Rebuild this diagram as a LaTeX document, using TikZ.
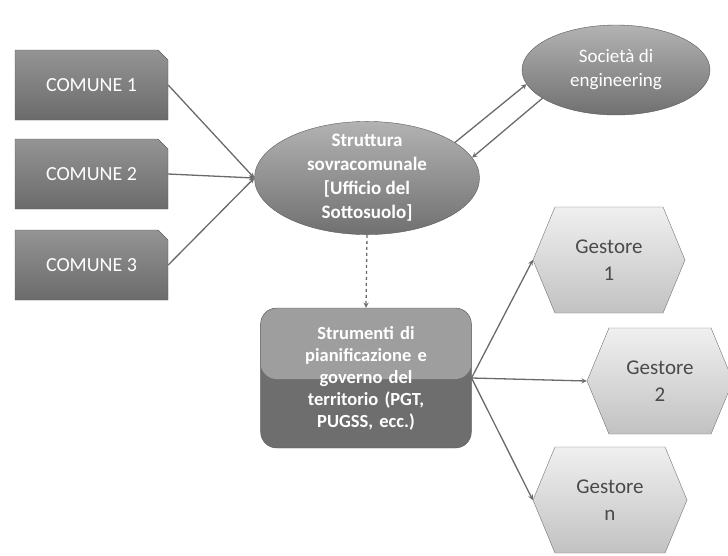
\documentclass[tikz,border=0pt]{standalone}
\usepackage{fontspec}
\setmainfont{Carlito}
\usepackage{tikz}
\usetikzlibrary{shapes,arrows,positioning}

\definecolor{boxgray}{HTML}{777777}
\definecolor{linegray}{HTML}{6A6A6A}
\definecolor{hexgray}{HTML}{C6C6C6}
\definecolor{hextext}{HTML}{4A4A4A}

\begin{document}
\begin{tikzpicture}[
    x=1pt, y=-1pt,
    comune/.style={chamfered rectangle, chamfered rectangle corners=north east, chamfered rectangle xsep=5pt, chamfered rectangle ysep=5pt,
        draw=black!65, top color=black!42, bottom color=black!58, minimum width=153pt, minimum height=70pt, inner sep=0pt,
        text=white, font=\fontsize{20}{22}\selectfont},
    oval/.style={ellipse, draw=black!65, top color=black!30, middle color=black!52, bottom color=black!56, inner xsep=0pt, inner ysep=-8pt,
        text=white, align=center, font=\bfseries\fontsize{19}{24}\selectfont},
    gestore/.style={signal, signal to=west and east, signal pointer angle=135, draw=black!55, top color=black!6, middle color=black!22, bottom color=black!24,
        minimum width=152pt, minimum height=106pt, inner sep=0pt, text=hextext, align=center, font=\fontsize{21}{27}\selectfont},
    arrow/.style={->, >=stealth, draw=linegray, line width=1.3pt}
]
\useasboundingbox (0,0) rectangle (728,555);

\node[comune] (comune1) at (91.5,85) {COMUNE 1};
\node[comune] (comune2) at (91.5,174) {COMUNE 2};
\node[comune] (comune3) at (91.5,265) {COMUNE 3};

\node[oval, minimum width=225pt, minimum height=110pt] (struttura) at (367,178) {\raisebox{-5pt}{\begin{tabular}{@{}c@{}}Struttura\\sovracomunale\\{[}Ufficio del\\Sottosuolo{]}\end{tabular}}};
\node[oval, minimum width=188pt, minimum height=90pt, font=\fontsize{19}{24}\selectfont] (societa) at (616,70) {Società di\\engineering};

\node[rectangle, rounded corners=16pt, draw=black!65, fill=black!57, minimum width=208pt, minimum height=140pt, text width=204pt, align=center,
    text=white, font=\bfseries\fontsize{18.5}{22}\selectfont,
    path picture={\fill[black!38] (path picture bounding box.north west) rectangle ([yshift=-1pt]path picture bounding box.east);}]
    (strumenti) at (366,378) {Strumenti di\\pianificazione e\\governo del\\territorio (PGT,\\PUGSS, ecc.)};

\node[gestore] (gestore1) at (609,260) {Gestore\\1};
\node[gestore, minimum width=146pt] (gestore2) at (660,381) {Gestore\\2};
\node[gestore, minimum width=154pt] (gestore3) at (610,500) {Gestore\\n};

\draw[arrow] (comune1.east) -- (struttura.west);
\draw[arrow] (comune2.east) -- (struttura.west);
\draw[arrow] (comune3.east) -- (struttura.west);
\draw[arrow] (struttura.22) -- (societa.189);
\draw[arrow] (societa.201) -- (struttura.11);
\draw[arrow, dashed] (struttura.south) -- (strumenti.north);
\draw[arrow] (strumenti.east) -- (gestore1.west);
\draw[arrow] (strumenti.east) -- (gestore2.west);
\draw[arrow] (strumenti.east) -- (gestore3.west);
\end{tikzpicture}
\end{document}
